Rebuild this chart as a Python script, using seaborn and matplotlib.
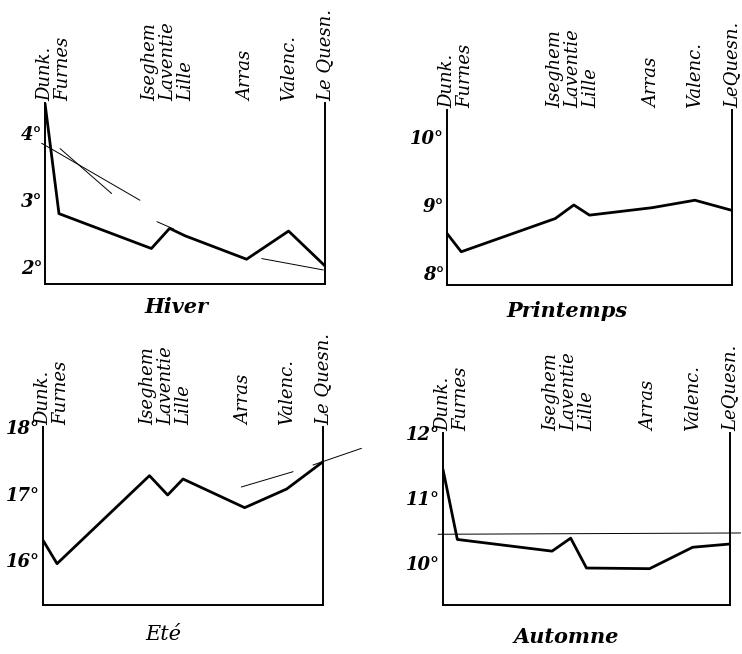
import matplotlib
matplotlib.use("Agg")
import matplotlib.pyplot as plt
import matplotlib.transforms as mtransforms
import pandas as pd
import seaborn as sns

# stations, left to right, and their relative position along the profile
stations = ["Dunk.", "Furnes", "Iseghem", "Laventie", "Lille", "Arras", "Valenc.", "Le Quesn."]
station_pos = [0.0, 0.05, 0.38, 0.445, 0.50, 0.72, 0.87, 1.0]
# names written close together are set as one block
label_groups = [[0, 1], [2, 3, 4], [5], [6], [7]]

# mean temperatures (degrees) per season
hiver = [4.45, 2.80, 2.28, 2.58, 2.47, 2.12, 2.54, 2.02]
printemps = [8.58, 8.31, 8.80, 9.00, 8.85, 8.96, 9.07, 8.92]
ete = [16.30, 15.95, 17.27, 16.98, 17.22, 16.79, 17.07, 17.48]
automne = [11.44, 10.36, 10.18, 10.38, 9.92, 9.91, 10.24, 10.29]

# thin pencil strokes added on the plates
hiver_strokes = [([-0.012, 0.339], [3.85, 3.00]),
                 ([0.054, 0.238], [3.77, 3.10]),
                 ([0.40, 0.46], [2.68, 2.57]),
                 ([0.774, 0.994], [2.13, 1.96])]
ete_strokes = [([0.708, 0.893], [17.10, 17.33]),
               ([0.964, 1.137], [17.43, 17.68])]
automne_strokes = [([-0.017, 1.037], [10.44, 10.46])]

seasons = ["Hiver", "Printemps", "Eté", "Automne"]
season_values = [hiver, printemps, ete, automne]
season_strokes = [hiver_strokes, [], ete_strokes, automne_strokes]
y_ticks = [[2, 3, 4], [8, 9, 10], [16, 17, 18], [10, 11, 12]]
y_limits = [(1.75, 4.45), (7.82, 10.40), (15.33, 18.0), (9.35, 12.0)]

sns.set_style("white")
plt.rcParams['font.family'] = ['DejaVu Serif', 'Liberation Serif']
plt.rcParams['font.style'] = 'italic'
plt.rcParams['text.color'] = 'black'
plt.rcParams['ytick.color'] = 'black'
plt.rcParams['ytick.labelcolor'] = 'black'

fig = plt.figure(figsize=(7.42, 6.54), dpi=100)

# axes boxes in figure fraction: left, bottom, width, height
boxes = [[0.0606, 0.5657, 0.3774, 0.2768],
         [0.6024, 0.5642, 0.3841, 0.2676],
         [0.0580, 0.0749, 0.3774, 0.2722],
         [0.5970, 0.0749, 0.3868, 0.2630]]
title_x = [0.47, 0.42, 0.43, 0.43]
title_y = [-0.07, -0.09, -0.11, -0.13]
title_weight = ["bold", "bold", "normal", "bold"]

for i, season in enumerate(seasons):
    ax = fig.add_axes(boxes[i])
    df = pd.DataFrame({"pos": station_pos, "temp": season_values[i]})
    sns.lineplot(data=df, x="pos", y="temp", ax=ax, color="black", lw=2.0)

    for xs, ys in season_strokes[i]:
        ax.plot(xs, ys, color="black", lw=0.7, clip_on=False)

    ax.set_xlim(0, 1)
    ax.set_ylim(*y_limits[i])
    ax.set_xticks([])
    ax.set_yticks(y_ticks[i])
    ax.set_yticklabels([f"{t}°" for t in y_ticks[i]], fontsize=13, fontweight="bold")
    ax.tick_params(axis="y", length=0, pad=2)
    ax.set_xlabel("")
    ax.set_ylabel("")
    ax.spines["top"].set_visible(False)
    for side in ["left", "right", "bottom"]:
        ax.spines[side].set_linewidth(1.4)
        ax.spines[side].set_color("black")

    names = list(stations)
    if i in (1, 3):
        names[-1] = "LeQuesn."
    trans = mtransforms.blended_transform_factory(ax.transData, ax.transAxes)
    for group in label_groups:
        p = sum(station_pos[k] for k in group) / len(group)
        if group[0] == 0:
            p += 0.008
        ax.text(p, 1.01, "\n".join(names[k] for k in group), transform=trans,
                rotation=90, ha="center", va="bottom", multialignment="left",
                linespacing=1.0, fontsize=13)

    ax.text(title_x[i], title_y[i], season, transform=ax.transAxes, ha="center", va="top",
            fontsize=15, fontweight=title_weight[i])

fig.savefig("out.png", dpi=100)
